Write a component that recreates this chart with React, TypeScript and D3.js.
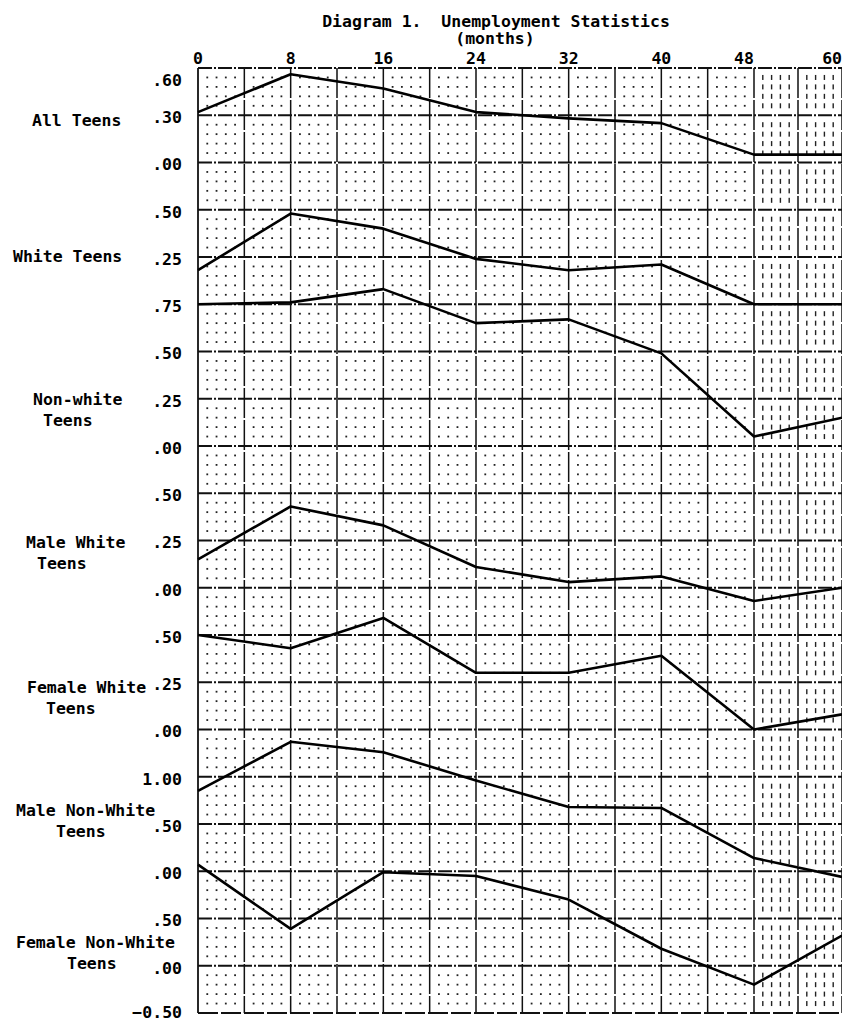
import React from 'react';
import * as d3 from 'd3';

// months along the top
const months = [0, 8, 16, 24, 32, 40, 48, 60];
const monthTicks = [0, 8, 16, 24, 32, 40, 48, 60];

// series values, one per month
const allTeens = [0.32, 0.56, 0.47, 0.32, 0.28, 0.25, 0.05, 0.05];
const whiteTeens = [0.18, 0.48, 0.40, 0.24, 0.18, 0.21, 0.0, 0.0];
const nonWhiteTeens = [0.75, 0.76, 0.83, 0.65, 0.67, 0.49, 0.05, 0.15];
const maleWhiteTeens = [0.15, 0.43, 0.33, 0.11, 0.03, 0.06, -0.07, 0.0];
const femaleWhiteTeens = [0.5, 0.43, 0.59, 0.3, 0.3, 0.39, 0.0, 0.08];
const maleNonWhiteTeens = [0.85, 1.37, 1.26, 0.96, 0.68, 0.67, 0.14, -0.06];
const femaleNonWhiteTeens = [1.07, 0.39, 0.99, 0.95, 0.7, 0.18, -0.2, 0.32];

// value labels on the left of each panel
const allTeensTicks = [0.6, 0.3, 0];
const whiteTeensTicks = [0.5, 0.25];
const nonWhiteTeensTicks = [0.75, 0.5, 0.25, 0];
const maleWhiteTicks = [0.5, 0.25, 0];
const femaleWhiteTicks = [0.5, 0.25, 0];
const maleNonWhiteTicks = [1, 0.5, 0];
const femaleNonWhiteTicks = [0.5, 0, -0.5];

const panelNames = [
  ['All Teens'],
  ['White Teens'],
  ['Non-white', 'Teens'],
  ['Male White', 'Teens'],
  ['Female White', 'Teens'],
  ['Male Non-White', 'Teens'],
  ['Female Non-White', 'Teens'],
];

const title = 'Diagram 1.  Unemployment Statistics';
const subtitle = '(months)';

// layout
const W = 842;
const H = 1023;
const FONT = '"DejaVu Sans Mono", "Liberation Mono", monospace';
const firstLine = [0, 3, 5, 9, 12, 15, 18]; // grid line of each panel's first tick
const nameLine = [1.1, 3.97, 7.0, 10.03, 13.1, 15.7, 18.5];
const nameX = [32, 13, 33, 26, 27, 16, 16];
const teensX = [0, 0, 43, 37, 46, 56, 67];

const x = d3.scaleLinear().domain([0, 48, 60]).range([198, 754, 842]);
const lineY = d3.scaleLinear().domain([0, 20]).range([68, 1013]);

const fmt = (v: number) => d3.format('.2f')(v).replace(/^(-?)0\./, '$1.');

export default function App() {
  const series = [allTeens, whiteTeens, nonWhiteTeens, maleWhiteTeens, femaleWhiteTeens, maleNonWhiteTeens, femaleNonWhiteTeens];
  const ticks = [allTeensTicks, whiteTeensTicks, nonWhiteTeensTicks, maleWhiteTicks, femaleWhiteTicks, maleNonWhiteTicks, femaleNonWhiteTicks];

  const panels = series.map((values, i) => {
    const t = ticks[i];
    const y = d3.scaleLinear()
      .domain([t[0], t[t.length - 1]])
      .range([lineY(firstLine[i]), lineY(firstLine[i] + t.length - 1)]);
    return { values, ticks: t, y, name: panelNames[i] };
  });

  const vMonths = d3.range(0, 49, 4).concat([54, 60]);
  const hLines = d3.range(0, 21);

  // dot pattern inside each cell, 4 x 4
  const dotXs: number[] = [];
  for (let i = 0; i < vMonths.length - 1; i++) {
    const a = x(vMonths[i]);
    const b = x(vMonths[i + 1]);
    for (let k = 1; k < 5; k++) dotXs.push(a + ((b - a) * k) / 5);
  }
  const dotYs: number[] = [];
  for (let i = 0; i < 20; i++) {
    for (let k = 1; k < 5; k++) dotYs.push(lineY(i + k / 5));
  }
  const dots: { cx: number; cy: number }[] = [];
  dotXs.forEach(cx => dotYs.forEach(cy => dots.push({ cx, cy })));

  return (
    <svg width={W} height={H} style={{ position: 'absolute', left: 0, top: 0, background: '#fff' }}
      fontFamily={FONT} fontWeight="bold" fontSize={16.5}>
      <rect width={W} height={H} fill="#fff" />

      {/* dots */}
      <g fill="#222">
        {dots.map((d, i) =>
          d.cx > x(48)
            ? <rect key={i} x={d.cx - 0.7} y={d.cy - 2.5} width={1.4} height={5} />
            : <rect key={i} x={d.cx - 0.9} y={d.cy - 0.9} width={1.8} height={1.8} />
        )}
      </g>

      {/* horizontal grid lines */}
      <g stroke="#111" strokeWidth={2}>
        {hLines.map(i => (
          <line key={i} x1={x(0)} x2={W} y1={lineY(i)} y2={lineY(i)}
            strokeDasharray={i === 20 ? '20 3' : '14 2 2 2'} />
        ))}
      </g>

      {/* vertical grid lines */}
      <g stroke="#111">
        {vMonths.map(m => (
          <line key={m} x1={x(m)} x2={x(m)} y1={lineY(0)} y2={lineY(20)}
            strokeWidth={m === 0 ? 1.8 : 1.5}
            strokeDasharray={m === 0 ? undefined : '30 2'} />
        ))}
      </g>

      {/* series */}
      <g fill="none" stroke="#000" strokeWidth={2.6} strokeLinejoin="round">
        {panels.map((p, i) => {
          const line = d3.line<number>()
            .x((_, j) => x(months[j]))
            .y(v => p.y(v));
          return <path key={i} d={line(p.values) || ''} />;
        })}
      </g>

      {/* value labels */}
      <g textAnchor="end" fill="#000">
        {panels.map((p, i) =>
          p.ticks.map((t, j) => {
            const li = firstLine[i] + j;
            const yy = li === 0 ? lineY(0) + 12 : li === 20 ? lineY(li) - 1 : lineY(li) + 2;
            return <text key={i + '-' + j} x={182} y={yy} dy="0.36em">{fmt(t)}</text>;
          })
        )}
      </g>

      {/* panel names */}
      <g fill="#000">
        {panels.map((p, i) => (
          <g key={i}>
            <text x={nameX[i]} y={lineY(nameLine[i])} dy="0.36em">{p.name[0]}</text>
            {p.name[1] && (
              <text x={teensX[i]} y={lineY(nameLine[i]) + 21} dy="0.36em">{p.name[1]}</text>
            )}
          </g>
        ))}
      </g>

      {/* month labels */}
      <g fill="#000">
        {monthTicks.map((m, i) => (
          <text key={m} x={i === monthTicks.length - 1 ? W : x(m) + (m === 48 ? -10 : 0)} y={64}
            textAnchor={i === monthTicks.length - 1 ? 'end' : 'middle'}>{m}</text>
        ))}
      </g>

      <text x={496} y={27} textAnchor="middle" style={{ whiteSpace: 'pre' }}>{title}</text>
      <text x={495} y={44} textAnchor="middle">{subtitle}</text>
    </svg>
  );
}
